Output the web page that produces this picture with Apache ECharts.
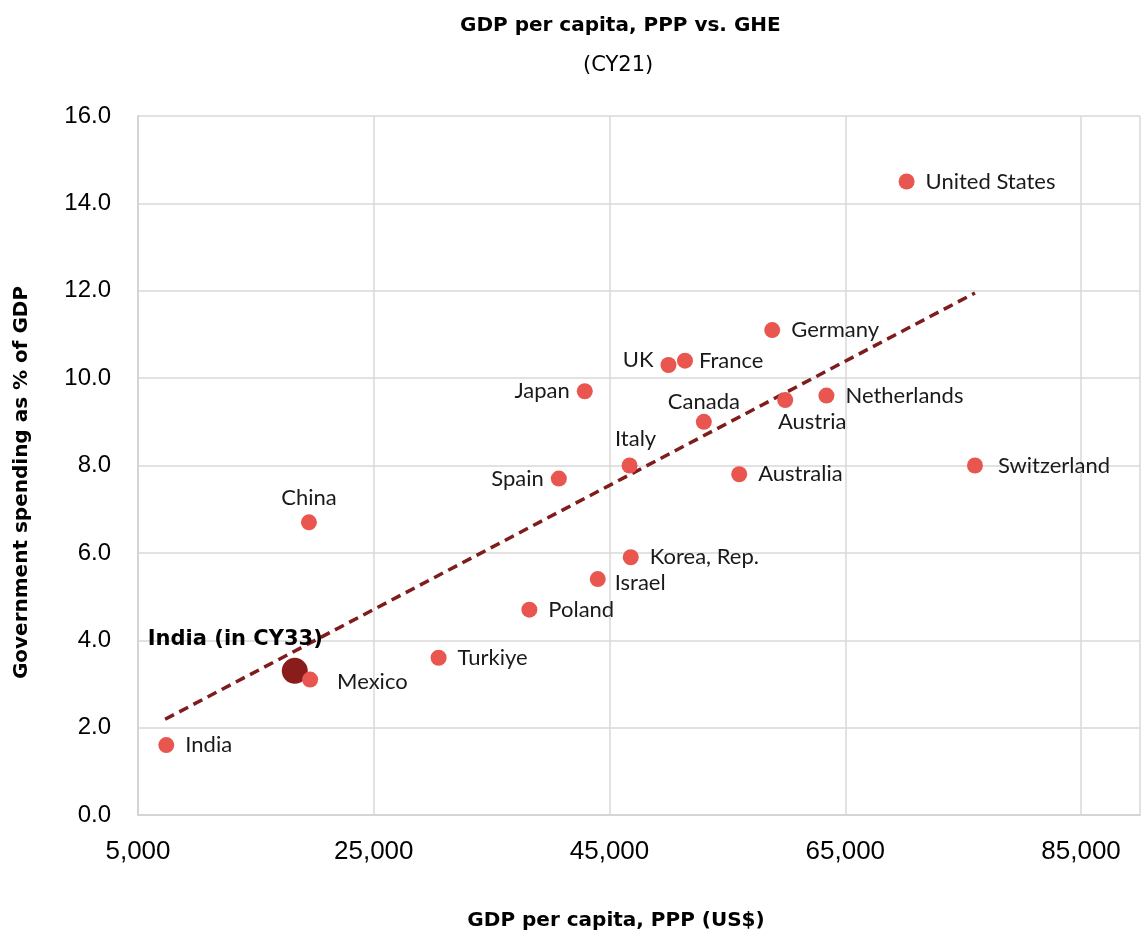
<!DOCTYPE html>
<html>
<head>
<meta charset="utf-8">
<title>GDP per capita, PPP vs. GHE</title>
<script src="https://cdn.jsdelivr.net/npm/echarts@6/dist/echarts.min.js"></script>
<style>
  html, body { margin: 0; padding: 0; background: #ffffff; }
  #chart { width: 1143px; height: 938px; }
</style>
</head>
<body>
<div id="chart"></div>
<script>
// Countries, GDP per capita (PPP, US$) and government health expenditure (% of GDP), CY21
const countries = ['United States', 'Switzerland', 'Germany', 'France', 'UK', 'Japan',
  'Netherlands', 'Austria', 'Canada', 'Italy', 'Australia', 'Spain', 'China',
  'Korea, Rep.', 'Israel', 'Poland', 'Turkiye', 'Mexico', 'India'];
const gdpPerCapita = [70200, 76000, 58800, 51400, 50000, 42900,
  63400, 59900, 53000, 46700, 56000, 40700, 19500,
  46800, 44000, 38200, 30500, 19600, 7400];
const gheShare = [14.5, 8.0, 11.1, 10.4, 10.3, 9.7,
  9.6, 9.5, 9.0, 8.0, 7.8, 7.7, 6.7,
  5.9, 5.4, 4.7, 3.6, 3.1, 1.6];

// India projected for CY33
const indiaProjectedName = 'India (in CY33)';
const indiaProjected = [18300, 3.3];

// Linear trend across the country range
const trendX = [7300, 76000];
const trendY = [2.19, 11.95];

// Axis ticks
const xTicks = [5000, 25000, 45000, 65000, 85000];
const yTicks = [0, 2, 4, 6, 8, 10, 12, 14, 16];

// Where each country's label sits relative to its dot
const labelPlacement = {
  'UK': { position: 'left', distance: 7, offset: [0, -5] },
  'Japan': { position: 'left', distance: 7 },
  'Spain': { position: 'left', distance: 7 },
  'Canada': { position: 'top', distance: 1 },
  'Italy': { position: 'top', distance: 8, offset: [6, 0] },
  'China': { position: 'top', distance: 5 },
  'Austria': { position: 'bottom', distance: 3, offset: [27, 0] },
  'France': { position: 'right', distance: 6 },
  'Mexico': { position: 'right', distance: 19, offset: [0, 2] },
  'Israel': { position: 'right', distance: 9, offset: [0, 4] },
  'Switzerland': { position: 'right', distance: 15 }
};

const labelFont = 'Lato, "Open Sans", sans-serif';
const boldFont = '"DejaVu Sans", Lato, sans-serif';
const tickFont = '"Liberation Sans", Arial, sans-serif';

const countryPoints = countries.map((name, i) => {
  const place = labelPlacement[name] || { position: 'right', distance: 11 };
  return {
    name: name,
    value: [gdpPerCapita[i], gheShare[i]],
    label: {
      show: true,
      formatter: name,
      position: place.position,
      distance: place.distance,
      offset: place.offset || [0, 0]
    }
  };
});

const chart = echarts.init(document.getElementById('chart'), null, { renderer: 'canvas' });

chart.setOption({
  backgroundColor: '#ffffff',
  animation: false,
  title: [
    {
      text: 'GDP per capita, PPP vs. GHE',
      left: 455,
      top: 11,
      textStyle: { fontFamily: boldFont, fontWeight: 'bold', fontSize: 20, color: '#000' }
    },
    {
      text: '(CY21)',
      left: 578,
      top: 50,
      textStyle: { fontFamily: '"DejaVu Sans", sans-serif', fontWeight: 'normal', fontSize: 21, color: '#000' }
    }
  ],
  grid: { left: 138, width: 1008, top: 116, bottom: 123, containLabel: false },
  xAxis: {
    type: 'value',
    min: 5000,
    max: 90000,
    interval: 20000,
    name: 'GDP per capita, PPP (US$)',
    nameLocation: 'middle',
    nameGap: 96,
    nameTextStyle: {
      fontFamily: boldFont, fontWeight: 'bold', fontSize: 20, color: '#000',
      padding: [0, 46, 0, 0]
    },
    axisLine: { show: true, lineStyle: { color: '#d4d4d4', width: 2 } },
    axisTick: { show: false },
    axisLabel: {
      margin: 24,
      fontFamily: tickFont,
      fontSize: 26,
      color: '#000',
      formatter: v => xTicks.includes(v) ? v.toLocaleString('en-US') : ''
    },
    splitLine: { show: true, lineStyle: { color: '#d9d9d9', width: 1.5 } }
  },
  yAxis: {
    type: 'value',
    min: 0,
    max: 16,
    interval: 2,
    name: 'Government spending as % of GDP',
    nameLocation: 'middle',
    nameGap: 106,
    nameTextStyle: {
      fontFamily: boldFont, fontWeight: 'bold', fontSize: 20, color: '#000',
      padding: [0, 34, 0, 0]
    },
    axisLine: { show: true, lineStyle: { color: '#d4d4d4', width: 2 } },
    axisTick: { show: false },
    axisLabel: {
      margin: 27,
      fontFamily: tickFont,
      fontSize: 24,
      color: '#000',
      formatter: v => yTicks.includes(v) ? v.toFixed(1) : ''
    },
    splitLine: { show: true, lineStyle: { color: '#d9d9d9', width: 1.5 } }
  },
  series: [
    {
      name: 'Trend',
      type: 'line',
      z: 3,
      data: trendX.map((x, i) => [x, trendY[i]]),
      symbol: 'none',
      silent: true,
      lineStyle: { color: '#7f1d1d', width: 3.5, type: [10, 6] }
    },
    {
      name: indiaProjectedName,
      type: 'scatter',
      z: 4,
      symbolSize: 26,
      itemStyle: { color: '#8b1c1c', opacity: 1 },
      data: [{
        name: indiaProjectedName,
        value: indiaProjected,
        label: {
          show: true,
          formatter: indiaProjectedName,
          position: 'left',
          offset: [41, -31],
          distance: 0
        }
      }],
      label: { fontFamily: boldFont, fontWeight: 'bold', fontSize: 21, color: '#000' }
    },
    {
      name: 'Countries',
      type: 'scatter',
      z: 5,
      symbolSize: 16,
      itemStyle: { color: '#e8564f', opacity: 1 },
      label: { fontFamily: labelFont, fontSize: 22, color: '#1a1a1a' },
      data: countryPoints
    }
  ]
});
</script>
</body>
</html>
